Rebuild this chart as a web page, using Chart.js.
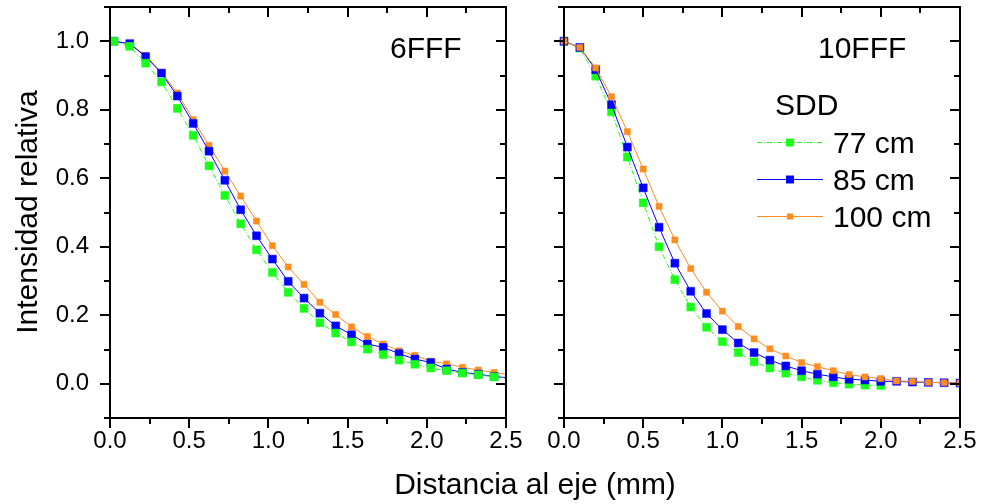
<!DOCTYPE html>
<html><head><meta charset="utf-8">
<script src="https://cdn.jsdelivr.net/npm/chart.js@4.4.1/dist/chart.umd.min.js"></script>
<style>
html,body{margin:0;padding:0;background:#fff;}
#wrap{position:relative;width:982px;height:504px;overflow:hidden;font-family:"Liberation Sans",Arial,sans-serif;color:#000;}
canvas{position:absolute;left:0;top:0;}
#xtitle{position:absolute;left:0;width:1070px;top:466px;text-align:center;font-size:30px;line-height:36px;white-space:nowrap;}
#ytitle{position:absolute;left:-123px;top:194px;width:300px;height:36px;text-align:center;font-size:30px;line-height:36px;white-space:nowrap;transform:rotate(-90deg);}
</style></head><body>
<div id="wrap">
<canvas id="c1" width="982" height="504"></canvas>
<canvas id="c2" width="982" height="504"></canvas>
<div id="xtitle">Distancia al eje (mm)</div>
<div id="ytitle">Intensidad relativa</div>
</div>
<script>
// ---------- data ----------
const seriesLabels = ['77 cm', '85 cm', '100 cm'];
const panelLabels = ['6FFF', '10FFF'];
const legendTitle = 'SDD';
const xTickLabels = ['0.0', '0.5', '1.0', '1.5', '2.0', '2.5'];
const yTickValues = [0.0, 0.2, 0.4, 0.6, 0.8, 1.0];

// 6FFF panel
const x6 = [0.025,0.125,0.225,0.325,0.425,0.525,0.625,0.725,0.825,0.925,1.025,1.125,1.225,1.325,1.425,1.525,1.625,1.725,1.825,1.925,2.025,2.125,2.225,2.325,2.425,2.525];
const y6_77  = [1.000,0.985,0.936,0.881,0.804,0.725,0.636,0.550,0.467,0.391,0.325,0.267,0.220,0.178,0.148,0.122,0.101,0.085,0.069,0.057,0.046,0.038,0.031,0.026,0.020,0.016];
const y6_85  = [1.000,0.993,0.955,0.907,0.840,0.760,0.679,0.594,0.508,0.432,0.364,0.299,0.250,0.206,0.169,0.143,0.116,0.106,0.088,0.072,0.062,0.043,0.033,0.028,0.021,0.017];
const y6_100 = [1.000,0.992,0.959,0.909,0.849,0.771,0.696,0.621,0.548,0.475,0.403,0.341,0.290,0.238,0.202,0.166,0.138,0.116,0.096,0.083,0.066,0.058,0.048,0.040,0.033,0.026];

// 10FFF panel
const x10 = [0.0,0.1,0.2,0.3,0.4,0.5,0.6,0.7,0.8,0.9,1.0,1.1,1.2,1.3,1.4,1.5,1.6,1.7,1.8,1.9,2.0,2.1,2.2,2.3,2.4,2.5];
const y10_77  = [1.000,0.980,0.898,0.794,0.662,0.528,0.400,0.304,0.224,0.165,0.123,0.091,0.064,0.046,0.031,0.020,0.010,0.003,-0.001,-0.004,-0.005];
const y10_85  = [1.000,0.982,0.917,0.815,0.691,0.572,0.457,0.352,0.270,0.205,0.158,0.119,0.091,0.069,0.052,0.038,0.028,0.020,0.013,0.011,0.007,0.007,0.005,0.004,0.003,0.002];
const y10_100 = [1.000,0.982,0.922,0.838,0.736,0.627,0.518,0.420,0.336,0.267,0.212,0.167,0.131,0.102,0.081,0.062,0.050,0.038,0.027,0.020,0.015,0.008,0.007,0.004,0.003,0.002];

// ---------- styles ----------
const FONT = '"Liberation Sans", Arial, sans-serif';
const COLORS = ['#19ff19', '#0000ff', '#ff8c1e'];
const DASHES = [[5,2,1,2], [], []];
const RADII = [5.6, 5.6, 4.3];

Chart.defaults.font.family = FONT;
Chart.defaults.color = '#000';

function pts(xs, ys){ return ys.map((v,i)=>({x:xs[i], y:v})); }

function makeDatasets(xs, ysList, orders){
  return ysList.map((ys,i)=>({
    label: seriesLabels[i],
    data: pts(xs, ys),
    borderColor: COLORS[i],
    backgroundColor: COLORS[i],
    pointBackgroundColor: COLORS[i],
    pointBorderColor: COLORS[i],
    borderWidth: 1,
    borderDash: DASHES[i],
    pointStyle: 'rect',
    pointRadius: RADII[i],
    pointBorderWidth: 0.5,
    tension: 0,
    order: orders[i],
    clip: {left: 6, top: 6, right: 0, bottom: 6}
  }));
}

function makeScales(showY){
  return {
    x: {
      type: 'linear', min: 0, max: 2.5,
      afterBuildTicks(s){ s.ticks = xTickLabels.map(t=>({value: parseFloat(t)})); },
      ticks: { callback: (v)=>Number(v).toFixed(1), font:{size:24}, color:'#000', padding:9, maxRotation:0, autoSkip:false },
      grid: { display:false, drawTicks:false }, border: { display:false },
      afterFit(s){ s.height = 86; s.paddingLeft = 0; s.paddingRight = 0; }
    },
    y: {
      type: 'linear', min: -0.1, max: 1.1,
      afterBuildTicks(s){ s.ticks = yTickValues.map(v=>({value:v})); },
      ticks: { display: showY, callback: (v)=>Number(v).toFixed(1), font:{size:24}, color:'#000', padding:21, autoSkip:false },
      grid: { display:false, drawTicks:false }, border: { display:false },
      afterFit(s){ s.width = showY ? 110 : 0; s.paddingTop = 0; s.paddingBottom = 0; }
    }
  };
}

const frame = {
  id: 'frame',
  afterDatasetsDraw(chart){
    const {ctx, chartArea:a, scales:{x, y}} = chart;
    ctx.save();
    ctx.strokeStyle = '#000'; ctx.lineWidth = 2; ctx.setLineDash([]);
    ctx.strokeRect(a.left, a.top, a.right - a.left, a.bottom - a.top);
    ctx.beginPath();
    for (let i = 0; i <= 10; i++){
      const v = i * 0.25, px = Math.round(x.getPixelForValue(v));
      const L = (i % 2 === 0) ? 10 : 6;
      ctx.moveTo(px, a.bottom); ctx.lineTo(px, a.bottom + L);
      ctx.moveTo(px, a.top); ctx.lineTo(px, a.top + L);
    }
    for (let i = 0; i <= 12; i++){
      const v = -0.1 + i * 0.1, py = Math.round(y.getPixelForValue(v));
      const L = (i % 2 === 1) ? 10 : 6;
      ctx.moveTo(a.left, py); ctx.lineTo(a.left - L, py);
      ctx.moveTo(a.right, py); ctx.lineTo(a.right - L, py);
    }
    ctx.stroke();
    ctx.restore();
  }
};

function annot(text, dx){
  return {
    id: 'annot',
    afterDraw(chart){
      const {ctx, chartArea:a} = chart;
      ctx.save();
      ctx.font = '30px ' + FONT; ctx.fillStyle = '#000'; ctx.textBaseline = 'alphabetic';
      ctx.fillText(text, a.left + dx, a.top + 51);
      ctx.restore();
    }
  };
}

const legendPlugin = {
  id: 'sddLegend',
  afterDraw(chart){
    const {ctx, chartArea:a} = chart;
    ctx.save();
    ctx.font = '30px ' + FONT; ctx.fillStyle = '#000'; ctx.textBaseline = 'alphabetic';
    ctx.fillText(legendTitle, a.left + 211, a.top + 108);
    const x0 = a.left + 193, x1 = a.left + 259, xm = a.left + 226;
    const rows = [142, 179, 216];
    chart.data.datasets.forEach((ds, i)=>{
      const yy = rows[i];
      ctx.strokeStyle = ds.borderColor; ctx.lineWidth = 1; ctx.setLineDash(ds.borderDash);
      ctx.beginPath(); ctx.moveTo(x0, yy + 0.5); ctx.lineTo(x1, yy + 0.5); ctx.stroke();
      ctx.setLineDash([]);
      const s = ds.pointRadius * Math.SQRT1_2;
      ctx.fillStyle = ds.pointBackgroundColor;
      ctx.fillRect(xm - s, yy + 0.5 - s, 2*s, 2*s);
      ctx.fillStyle = '#000';
      ctx.fillText(ds.label, a.left + 269, yy + 11);
    });
    ctx.restore();
  }
};

function makeChart(id, xs, ysList, orders, showY, padding, plugins){
  return new Chart(document.getElementById(id), {
    type: 'line',
    data: { datasets: makeDatasets(xs, ysList, orders) },
    options: {
      responsive: false, animation: false, devicePixelRatio: 1,
      layout: { padding, autoPadding: false },
      scales: makeScales(showY),
      plugins: { legend:{display:false}, tooltip:{enabled:false} },
      events: []
    },
    plugins
  });
}

makeChart('c1', x6, [y6_77, y6_85, y6_100], [0,1,2], true,
  {left:0, top:7, right:476, bottom:0}, [frame, annot(panelLabels[0], 280)]);
makeChart('c2', x10, [y10_77, y10_85, y10_100], [2,1,0], false,
  {left:564, top:7, right:22, bottom:0}, [frame, annot(panelLabels[1], 254), legendPlugin]);
</script>
</body></html>
